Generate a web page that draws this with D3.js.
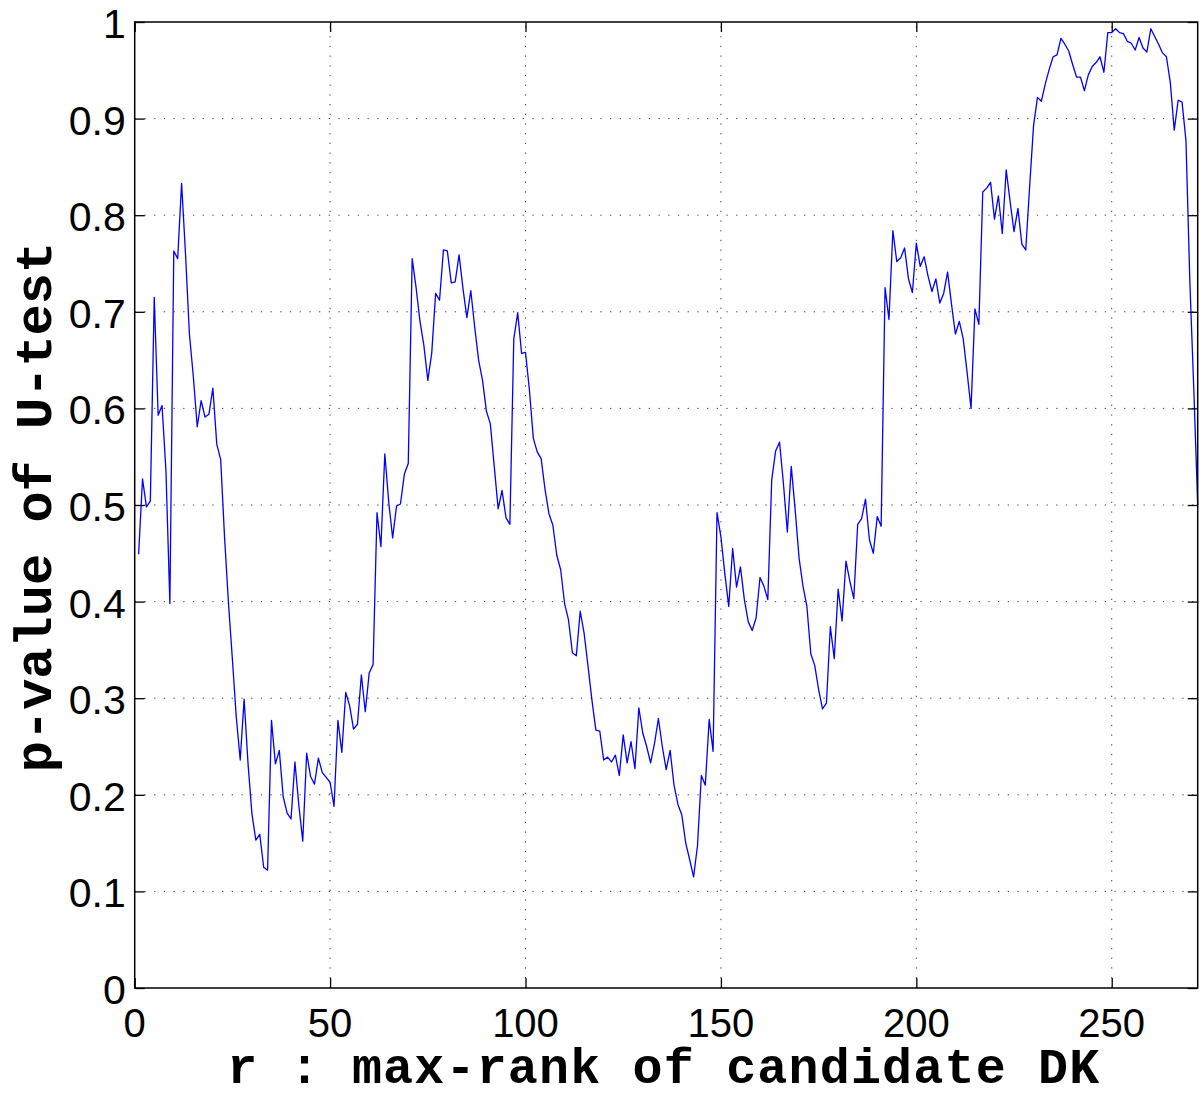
<!DOCTYPE html>
<html>
<head>
<meta charset="utf-8">
<script src="https://cdn.jsdelivr.net/npm/d3@7"></script>
<style>
  html, body { margin: 0; padding: 0; background: #fff; }
  svg { display: block; }
</style>
</head>
<body>
<script>
// ---- data ----
const pValues = [
  0.449,0.527,0.498,0.504,0.715,0.593,0.603,0.535,0.398,0.763,
  0.755,0.833,0.760,0.677,0.633,0.581,0.608,0.591,0.594,0.621,
  0.563,0.547,0.466,0.398,0.340,0.280,0.236,0.299,0.232,0.180,
  0.153,0.159,0.125,0.122,0.277,0.232,0.246,0.198,0.181,0.175,
  0.234,0.189,0.152,0.243,0.219,0.211,0.238,0.223,0.218,0.213,
  0.188,0.277,0.244,0.306,0.292,0.268,0.273,0.324,0.286,0.326,
  0.335,0.492,0.457,0.553,0.503,0.466,0.499,0.501,0.532,0.543,
  0.755,0.725,0.690,0.665,0.629,0.657,0.719,0.712,0.764,0.763,
  0.730,0.731,0.759,0.724,0.694,0.722,0.684,0.650,0.629,0.597,
  0.584,0.540,0.496,0.515,0.487,0.480,0.672,0.699,0.657,0.658,
  0.619,0.569,0.555,0.548,0.516,0.491,0.479,0.448,0.433,0.398,
  0.381,0.347,0.344,0.390,0.367,0.333,0.298,0.267,0.266,0.236,
  0.239,0.234,0.241,0.220,0.262,0.233,0.255,0.227,0.290,0.264,
  0.250,0.233,0.253,0.279,0.250,0.226,0.246,0.210,0.190,0.179,
  0.150,0.133,0.115,0.147,0.220,0.210,0.278,0.245,0.492,0.467,
  0.429,0.395,0.455,0.415,0.436,0.402,0.379,0.370,0.383,0.425,
  0.416,0.402,0.526,0.556,0.565,0.522,0.472,0.540,0.495,0.445,
  0.416,0.395,0.346,0.334,0.309,0.289,0.295,0.374,0.341,0.413,
  0.380,0.442,0.421,0.403,0.480,0.486,0.506,0.464,0.450,0.488,
  0.478,0.725,0.692,0.784,0.752,0.756,0.766,0.734,0.720,0.771,
  0.747,0.757,0.737,0.721,0.734,0.709,0.719,0.741,0.708,0.677,
  0.690,0.672,0.637,0.600,0.703,0.687,0.824,0.828,0.834,0.796,
  0.820,0.781,0.847,0.814,0.783,0.807,0.770,0.764,0.830,0.893,
  0.922,0.918,0.936,0.951,0.964,0.966,0.983,0.977,0.970,0.956,
  0.943,0.943,0.929,0.945,0.954,0.958,0.964,0.948,0.989,0.989,
  0.993,0.989,0.988,0.980,0.978,0.971,0.984,0.973,0.969,0.993,
  0.985,0.977,0.968,0.964,0.937,0.888,0.919,0.917,0.877,0.730,
  0.620,0.500
];
const ranks = pValues.map((_, i) => i + 1);
const xTicks = [0, 50, 100, 150, 200, 250];
const yTicks = [0, 0.1, 0.2, 0.3, 0.4, 0.5, 0.6, 0.7, 0.8, 0.9, 1];
const xDomain = [0, 272];
const yDomain = [0, 1];
const xLabel = "r : max-rank of candidate DK";
const yLabel = "p-value of U-test";

// ---- layout ----
const W = 1204, H = 1097;
const L = 134.7, R = 1197.7, T = 22, B = 988;

const svg = d3.select("body").append("svg")
  .attr("width", W).attr("height", H);

const x = d3.scaleLinear().domain(xDomain).range([L, R]);
const y = d3.scaleLinear().domain(yDomain).range([B, T]);

// grid
const grid = svg.append("g").attr("stroke", "#444").attr("stroke-width", 1)
  .attr("stroke-dasharray", "1.3,8.4").attr("fill", "none");
grid.selectAll(".gx").data(xTicks.filter(d => d > 0)).enter().append("line")
  .attr("x1", d => x(d)).attr("x2", d => x(d))
  .attr("y1", B).attr("y2", T);
grid.selectAll(".gy").data(yTicks.filter(d => d > 0 && d < 1)).enter().append("line")
  .attr("y1", d => y(d)).attr("y2", d => y(d))
  .attr("x1", L).attr("x2", R);

// data line
const line = d3.line().x((d, i) => x(ranks[i])).y(d => y(d));
svg.append("path").datum(pValues)
  .attr("d", line)
  .attr("fill", "none")
  .attr("stroke", "#0000ff")
  .attr("stroke-width", 1.3)
  .attr("stroke-linejoin", "round");

// axes (ticks inward)
const tl = 10;
const axB = d3.axisTop(x).tickValues(xTicks).tickSize(tl).tickFormat("");
const axT = d3.axisBottom(x).tickValues(xTicks).tickSize(tl).tickFormat("");
const axL = d3.axisRight(y).tickValues(yTicks).tickSize(tl).tickFormat("");
const axR = d3.axisLeft(y).tickValues(yTicks).tickSize(tl).tickFormat("");
[[axB, `translate(0,${B})`], [axT, `translate(0,${T})`],
 [axL, `translate(${L},0)`], [axR, `translate(${R},0)`]].forEach(([ax, tr]) => {
  const g = svg.append("g").attr("transform", tr).call(ax);
  g.select(".domain").remove();
  g.selectAll("line").attr("stroke", "#000").attr("stroke-width", 1.3);
});
svg.append("rect").attr("x", L).attr("y", T).attr("width", R - L).attr("height", B - T)
  .attr("fill", "none").attr("stroke", "#000").attr("stroke-width", 1.5);

// tick labels
const tickFont = "'Liberation Sans', Arial, Helvetica, sans-serif";
svg.append("g").selectAll("text").data(xTicks).enter().append("text")
  .attr("x", d => x(d)).attr("y", B + 49)
  .attr("text-anchor", "middle")
  .attr("font-family", tickFont).attr("font-size", 40)
  .text(d => d);
svg.append("g").selectAll("text").data(yTicks).enter().append("text")
  .attr("x", L - 9).attr("y", d => y(d) + 16)
  .attr("text-anchor", "end")
  .attr("font-family", tickFont).attr("font-size", 41)
  .text(d => d === 0 ? "0" : d === 1 ? "1" : d3.format(".1f")(d));

// axis labels
const labFont = "'Liberation Mono', 'Courier New', monospace";
svg.append("text")
  .attr("x", (L + R) / 2 - 3).attr("y", 1083)
  .attr("text-anchor", "middle")
  .attr("font-family", labFont).attr("font-weight", "bold").attr("font-size", 50)
  .attr("textLength", 872).attr("lengthAdjust", "spacing")
  .text(xLabel);
svg.append("text")
  .attr("transform", `translate(51,${507}) rotate(-90)`)
  .attr("text-anchor", "middle")
  .attr("font-family", labFont).attr("font-weight", "bold").attr("font-size", 52)
  .text(yLabel);
</script>
</body>
</html>
